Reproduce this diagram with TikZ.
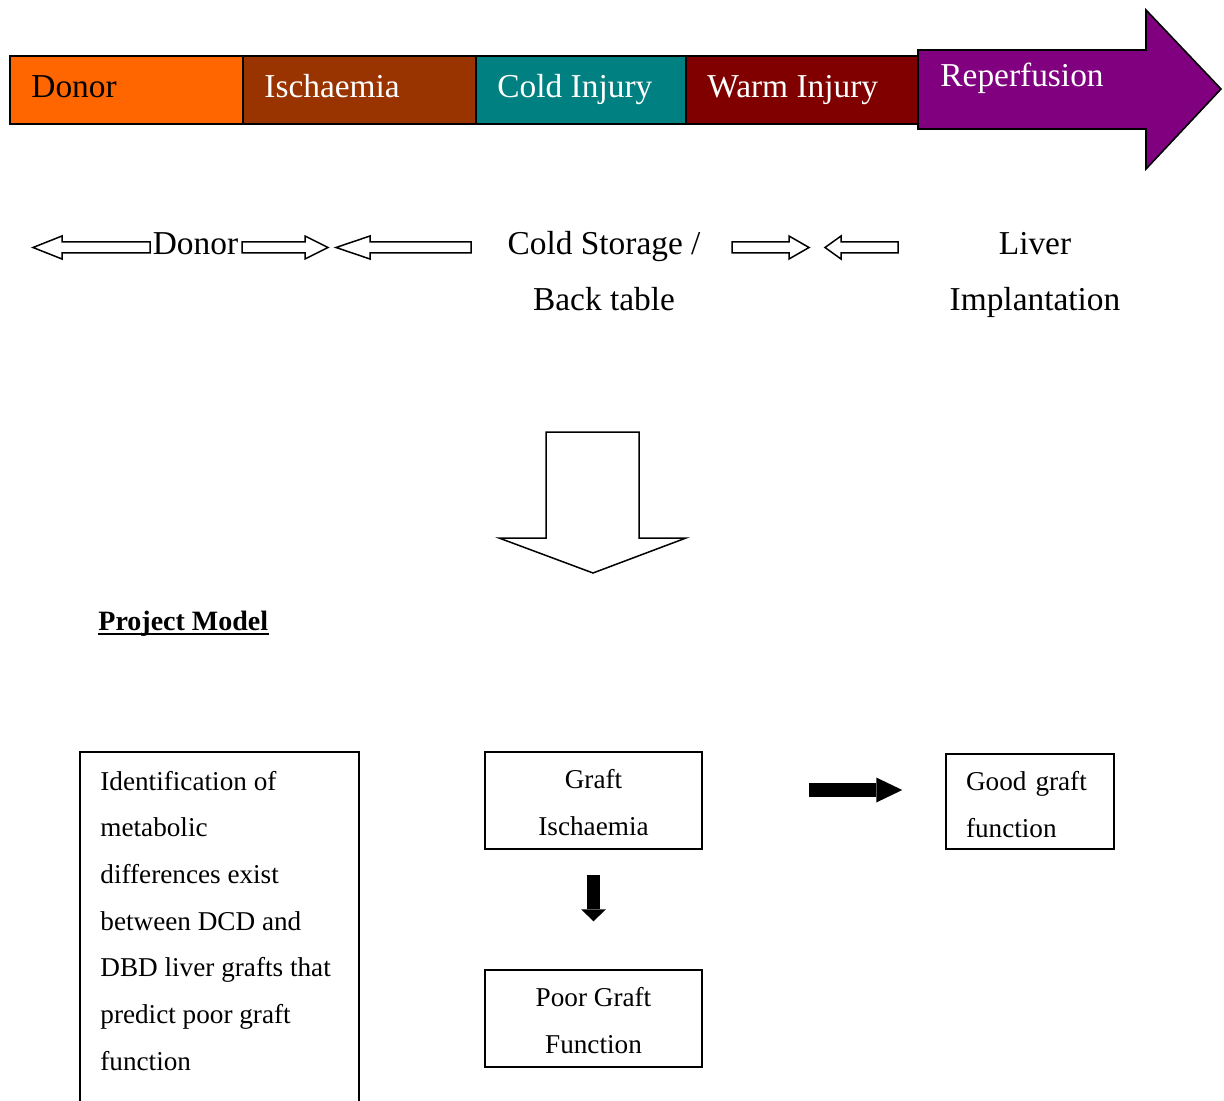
\documentclass[tikz,border=0pt]{standalone}
\usepackage{fontspec}
\setmainfont{Liberation Serif}
\usetikzlibrary{arrows.meta}
\definecolor{cdonor}{HTML}{FF6600}
\definecolor{cisch}{HTML}{993300}
\definecolor{ccold}{HTML}{008080}
\definecolor{cwarm}{HTML}{800000}
\definecolor{creperf}{HTML}{800080}
\newcommand\topgap[1]{\rule{0pt}{#1}}
\tikzset{
  big/.style={font=\fontsize{16.7}{20}\selectfont,inner sep=0pt},
  small/.style={font=\fontsize{13.6}{23.5}\selectfont},
  hollow/.style={draw,fill=white,line width=0.75pt},
  box/.style={draw,line width=0.75pt,small,align=center,minimum width=108.5pt,minimum height=48.5pt},
  fatarrow/.style={line width=6.75pt,-{Triangle[length=13pt,width=12.5pt,line width=0pt]}},
}
\begin{document}
\begin{tikzpicture}[x=0.5pt,y=-0.5pt]
\useasboundingbox (0,0) rectangle (1224,1101);
\foreach \xa/\xb/\col/\tc/\lab [count=\i] in {10/243/cdonor/black/Donor,243/476/cisch/white/Ischaemia,476/686/ccold/white/Cold Injury,686/918/cwarm/white/Warm Injury}{
  \draw[line width=0.8pt,fill=\col](\xa,56) rectangle (\xb,124);
  \node[big,text=\tc,anchor=base west](seg\i) at (\xa+21,97.5) {\lab};}
\draw[line width=0.8pt,fill=creperf](918,50) -- (1146,50) -- (1146,10) -- (1221,89) -- (1146,169) -- (1146,129) -- (918,129) -- cycle;
\node[big,text=white,anchor=base west](reperf) at (940,86.5) {Reperfusion};
\foreach \xa/\xb/\xc in {150/62/33,242/305/328,471/370/336,732/789/809,898/841/825}
  \draw[hollow](\xa,242) -- (\xb,242) -- (\xb,236) -- (\xc,247.5) -- (\xb,259) -- (\xb,253) -- (\xa,253) -- cycle;
\node[big,anchor=base](dlab) at (195.5,255) {Donor};
\node[big,anchor=base](cs) at (604,255) {Cold Storage /};
\node[big,anchor=base](bt) at (604,311) {Back table};
\node[big,anchor=base](lv) at (1035,255) {Liver};
\node[big,anchor=base](im) at (1035,311) {Implantation};
\draw[hollow](546,432) -- (639,432) -- (639,538) -- (686,538) -- (593,573) -- (499,538) -- (546,538) -- cycle;
\node[font=\fontsize{14}{17}\selectfont\bfseries,anchor=base west,inner sep=0pt](pm) at (98,630) {Project Model};
\draw[line width=1pt]([yshift=-1.75pt]pm.base west) -- ([yshift=-1.75pt]pm.base east);
\draw[line width=0.75pt](80,1120) -- (80,752) -- (359,752) -- (359,1120);
\foreach \l [count=\i] in {Identification of,metabolic,differences exist,between DCD and,DBD liver grafts that,predict poor graft,function}
  \node[small,anchor=base west,inner sep=0pt](id\i) at (100,{790+46.67*(\i-1)}) {\l};
\node[box](gi) at (593.5,800.5) {\topgap{11.2pt}Graft\\Ischaemia};
\node[box](pg) at (593.5,1018.5) {\topgap{11.2pt}Poor Graft\\Function};
\node[box,align=left,text width=64pt,minimum width=84pt,minimum height=47.5pt,inner xsep=10pt](gg) at (1030,801.5) {\topgap{12.2pt}Good graft\\function};
\draw[fatarrow,line width=6.5pt,shorten <=12.5pt,shorten >=24pt,-{Triangle[length=6pt,width=12.5pt,line width=0pt]}](gi.south) -- (pg.north);
\draw[fatarrow,shorten <=53pt,shorten >=21.5pt]([yshift=5.25pt]gi.east) -- ([yshift=5.25pt]gi.east -| gg.west);
\end{tikzpicture}
\end{document}
